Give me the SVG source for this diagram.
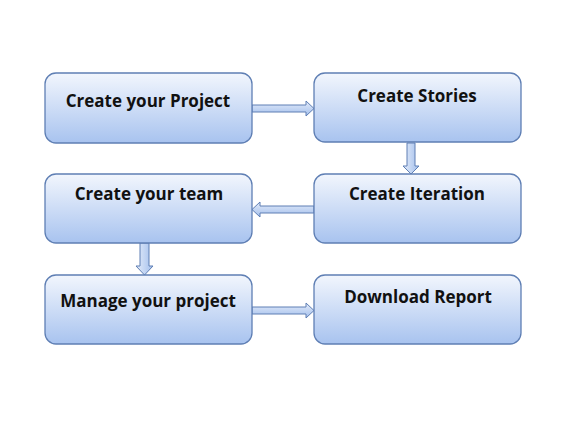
<svg xmlns="http://www.w3.org/2000/svg" width="576" height="432" viewBox="0 0 576 432">
<defs>
<linearGradient id="g" x1="0" y1="0" x2="0" y2="1">
<stop offset="0" stop-color="#f2f6fd"/>
<stop offset="1" stop-color="#a8c3ef"/>
</linearGradient>
<linearGradient id="ga" x1="0" y1="0" x2="0" y2="1">
<stop offset="0" stop-color="#e4ecfa"/>
<stop offset="1" stop-color="#a3bfec"/>
</linearGradient>
<linearGradient id="gv" x1="0" y1="0" x2="1" y2="0">
<stop offset="0" stop-color="#e4ecfa"/>
<stop offset="1" stop-color="#a3bfec"/>
</linearGradient>
</defs>
<style>
.box{fill:url(#g);stroke:#5f7fb4;stroke-width:1.3}
.t{font-family:"Open Sans","Liberation Sans",sans-serif;font-weight:bold;font-size:17px;fill:#111;text-anchor:middle}
.ah{fill:url(#ga);stroke:#5f7fb4;stroke-width:1}
.av{fill:url(#gv);stroke:#5f7fb4;stroke-width:1}
</style>
<rect width="576" height="432" fill="#fff"/>
<g id="connectors">
<polygon class="ah" points="252,105 306,105 306,101 314,108.5 306,116 306,112 252,112"/>
<polygon class="av" points="407,143 415,143 415,166 419,166 411,174 403,166 407,166"/>
<polygon class="ah" points="314,206 260,206 260,202 252,209.5 260,217 260,213 314,213"/>
<polygon class="av" points="140,243 149,243 149,266 153,266 144.5,275 136,266 140,266"/>
<polygon class="ah" points="252,307 306,307 306,303 314,310.5 306,318 306,314 252,314"/>
</g>
<g id="n1"><rect class="box" x="45" y="73" width="207" height="70" rx="11"/><text class="t" x="148" y="107">Create your Project</text></g>
<g id="n2"><rect class="box" x="314" y="73" width="207" height="69" rx="11"/><text class="t" x="417" y="102">Create Stories</text></g>
<g id="n3"><rect class="box" x="45" y="174" width="207" height="69" rx="11"/><text class="t" x="149" y="200">Create your team</text></g>
<g id="n4"><rect class="box" x="314" y="174" width="207" height="69" rx="11"/><text class="t" x="417" y="200">Create Iteration</text></g>
<g id="n5"><rect class="box" x="45" y="275" width="207" height="69" rx="11"/><text class="t" x="148" y="307">Manage your project</text></g>
<g id="n6"><rect class="box" x="314" y="275" width="207" height="69" rx="11"/><text class="t" x="418" y="303">Download Report</text></g>
</svg>
